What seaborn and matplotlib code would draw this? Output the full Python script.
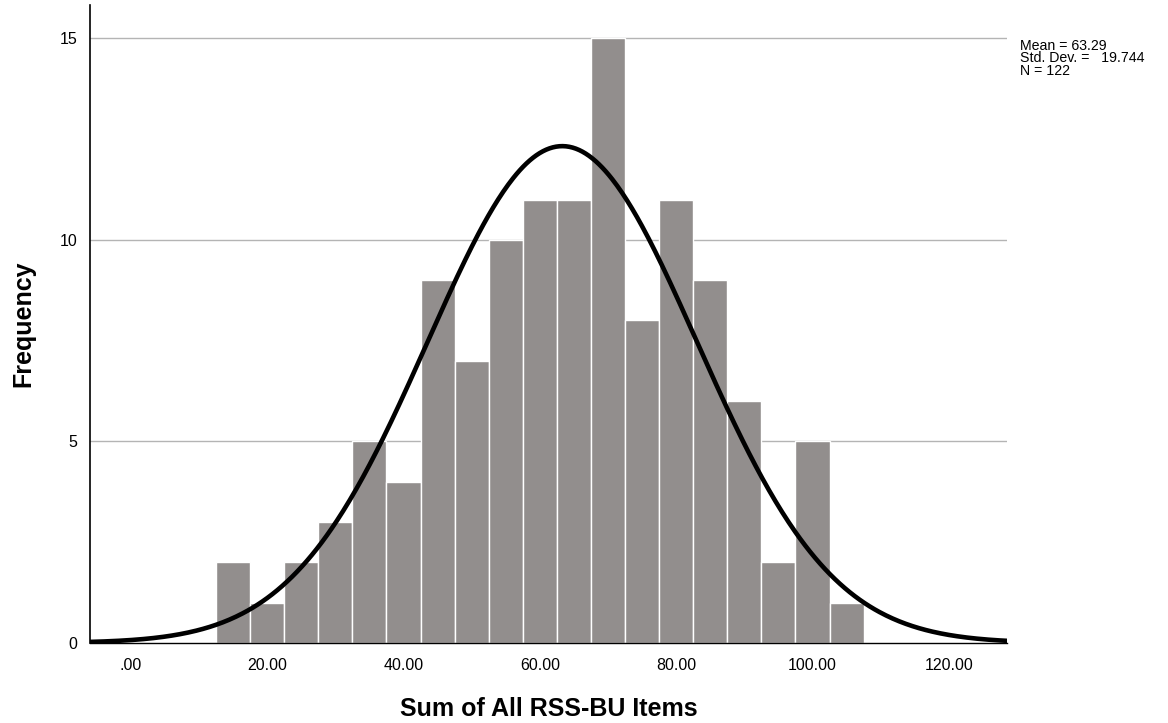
import numpy as np
import pandas as pd
import matplotlib
matplotlib.use("Agg")
import matplotlib.pyplot as plt
import seaborn as sns

# histogram bins (centres) and frequencies
bin_centers = [15, 20, 25, 30, 35, 40, 45, 50, 55, 60, 65, 70, 75, 80, 85, 90, 95, 100, 105]
counts = [2, 1, 2, 3, 5, 4, 9, 7, 10, 11, 11, 15, 8, 11, 9, 6, 2, 5, 1]
bin_width = 5

mean_val = 63.29
sd_val = 19.744
n_val = 122

x_ticks = [0, 20, 40, 60, 80, 100, 120]
x_ticklabels = [".00", "20.00", "40.00", "60.00", "80.00", "100.00", "120.00"]
y_ticks = [0, 5, 10, 15]

sns.set_style("white")
plt.rcParams['font.family'] = ['Liberation Sans', 'DejaVu Sans']
plt.rcParams['text.color'] = 'black'
plt.rcParams['axes.labelcolor'] = 'black'
plt.rcParams['xtick.color'] = 'black'
plt.rcParams['ytick.color'] = 'black'

fig = plt.figure(figsize=(11.68, 7.23), dpi=100)
ax = fig.add_axes([0.077, 0.1107, 0.785, 0.882])

df = pd.DataFrame({"score": bin_centers, "freq": counts})

# grid first so bars sit on top
for yv in y_ticks[1:]:
    ax.axhline(yv, color="#b4b4b4", lw=1.0, zorder=0)

sns.histplot(data=df, x="score", weights="freq", binwidth=bin_width,
             binrange=(bin_centers[0] - bin_width / 2, bin_centers[-1] + bin_width / 2), ax=ax,
             color="#928e8d", alpha=1, edgecolor="white", linewidth=1.0, zorder=2)

# normal curve scaled to counts
xs = np.linspace(-10, 135, 600)
ys = n_val * bin_width * np.exp(-0.5 * ((xs - mean_val) / sd_val) ** 2) / (sd_val * np.sqrt(2 * np.pi))
sns.lineplot(x=xs, y=ys, ax=ax, color="black", lw=3.3, zorder=3)

ax.set_xlim(-6, 128.5)
ax.set_ylim(0, 15.82)
ax.set_xticks(x_ticks)
ax.set_xticklabels(x_ticklabels)
ax.set_yticks(y_ticks)
ax.tick_params(axis="x", length=0, pad=11, labelsize=11.5)
ax.tick_params(axis="y", length=0, pad=9, labelsize=11.5)

for s in ["top", "right"]:
    ax.spines[s].set_visible(False)
ax.spines["left"].set_color("black")
ax.spines["left"].set_linewidth(1.2)
ax.spines["bottom"].set_color("black")
ax.spines["bottom"].set_linewidth(1.0)

ax.set_xlabel("Sum of All RSS-BU Items", fontsize=18, fontweight="bold")
ax.set_ylabel("Frequency", fontsize=18, fontweight="bold")
ax.xaxis.set_label_coords(0.5, -0.103)
ax.yaxis.set_label_coords(-0.073, 0.5)
ax.xaxis.label.set_va("center")
ax.yaxis.label.set_va("center")

fig.text(1020 / 1168, 1 - 39 / 723, "Mean = %.2f\nStd. Dev. =   %.3f\nN = %d" % (mean_val, sd_val, n_val),
         fontsize=10.2, va="top", ha="left", linespacing=0.86)

fig.savefig("out.png", dpi=100)
